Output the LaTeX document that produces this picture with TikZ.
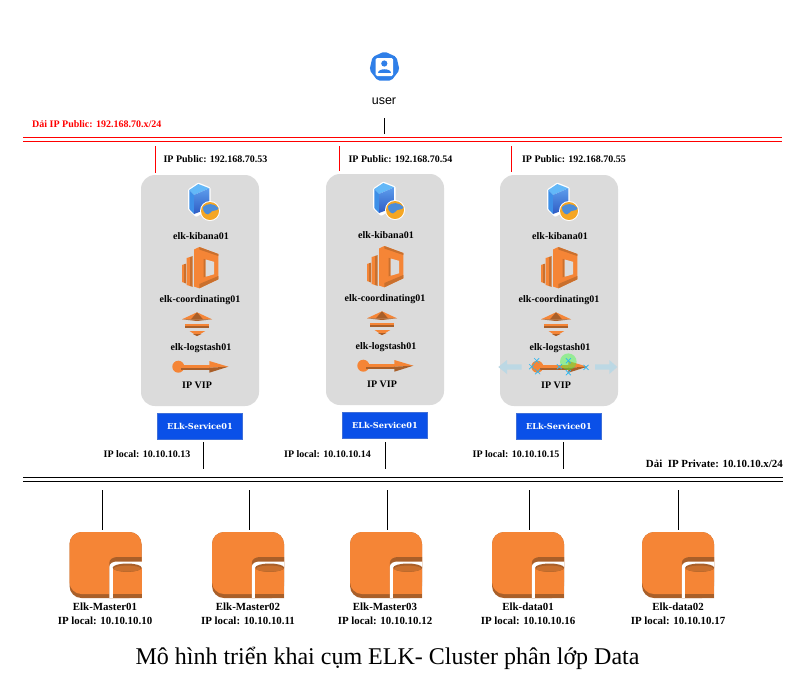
\documentclass[tikz,border=0pt]{standalone}
\usepackage{fontspec}
\setmainfont{Liberation Serif}
\newfontfamily\userfont{Liberation Sans}
\newfontfamily\svcfont{DejaVu Serif}
\definecolor{oMain}{HTML}{F58536}
\definecolor{oDark}{HTML}{A95F29}
\definecolor{oMid}{HTML}{C9702E}
\definecolor{panelC}{HTML}{DBDBDB}
\definecolor{svcC}{HTML}{0A50E8}
\definecolor{svcB}{HTML}{3F6FD8}
\definecolor{userC}{HTML}{2F7FE8}
\definecolor{hintC}{HTML}{BCD8E4}
\definecolor{handC}{HTML}{29B6F2}
\definecolor{srvTop}{HTML}{63B8F8}
\definecolor{srvLeft}{HTML}{3D8FE8}
\definecolor{srvFrontT}{HTML}{5C9CEC}
\definecolor{srvFrontB}{HTML}{2E5CC4}
\definecolor{globeB}{HTML}{4C8CD8}
\definecolor{globeO}{HTML}{F5A623}
\tikzset{
  x=1pt,y=-1pt,
  lbl/.style={font=\bfseries\fontsize{10}{12}\selectfont,inner sep=0pt,text=black},
  lblb/.style={font=\bfseries\fontsize{10.9}{13}\selectfont,inner sep=0pt,text=black},
  panel/.style={fill=panelC,draw=none,rounded corners=14pt},
  svc/.style={fill=svcC,draw=svcB,line width=0.8pt,text=white,font=\svcfont\bfseries\fontsize{8.2}{10}\selectfont,minimum width=85pt,minimum height=26pt,inner sep=0pt},
  bus/.style={line width=0.9pt,black},
  busred/.style={line width=0.9pt,draw=red},
  wire/.style={line width=0.8pt,black},
  redwire/.style={line width=0.9pt,draw=red},
  pics/server/.style={code={
    \fill[white,rounded corners=1pt] (-9,-13.5) -- (1.3,-20.5) -- (13.5,-15.5) -- (13.5,6) -- (-1,14) -- (-9,6.5) -- cycle;
    \fill[srvTop] (-7.7,-13) -- (1.3,-19) -- (12.3,-14.7) -- (-3,-8) -- cycle;
    \fill[srvLeft] (-7.7,-13) -- (-3,-8) -- (-3,11) -- (-7.7,6) -- cycle;
    \shade[top color=srvFrontT,bottom color=srvFrontB] (-3,-8) -- (12.3,-14.7) -- (12.3,5.3) -- (-3,11) -- cycle;
    \fill[white] (13,8) circle (10);
    \fill[globeO] (13,8) circle (9);
    \fill[globeB] (6,4) .. controls (10,0) and (17,0) .. (21.5,5) .. controls (21,9) and (15,6) .. (13,10) .. controls (11,14) and (5,9) .. (6,4) -- cycle;
  }},
  pics/coord/.style={code={
    \fill[oMain] (-18,-2.5) -- (-16,-3.2) -- (-16,15.2) -- (-18,14.5) -- cycle;
    \fill[oMid] (-16,-3.2) -- (-14,-3.8) -- (-14,16) -- (-16,15.2) -- cycle;
    \fill[oMain] (-13.3,-9.5) -- (-10,-10.5) -- (-10,18.5) -- (-13.3,17.5) -- cycle;
    \fill[oMid] (-10,-10.5) -- (-7.3,-11.5) -- (-7.3,19.5) -- (-10,18.5) -- cycle;
    \fill[oMain] (-6,-18) -- (-0.7,-20.5) -- (18.3,-13.5) -- (18.3,11.8) -- (-0.7,20.8) -- (-6,19) -- cycle;
    \fill[oMid] (-0.7,-20.5) -- (18.3,-13.5) -- (18.3,-11.5) -- (-0.7,-18) -- cycle;
    \fill[oMid] (-0.7,16.5) -- (18.3,8.5) -- (18.3,11.8) -- (-0.7,20.8) -- cycle;
    \fill[oMid] (3.7,-8.7) -- (5.7,-8) -- (5.7,9.2) -- (3.7,9.8) -- cycle;
    \fill[panelC] (5.7,-8) -- (14,-5.7) -- (14,6.8) -- (5.7,9.2) -- cycle;
  }},
  pics/logst/.style={code={
    \fill[oMain] (-15,-5.7) -- (0,-12.7) -- (15,-5.7) -- cycle;
    \fill[oDark] (-15,-5.7) -- (15,-5.7) -- (0,-4) -- cycle;
    \fill[oDark] (-6,-5.7) -- (0,-12.7) -- (6,-5.7) -- cycle;
    \fill[oMain] (-11.7,-1) rectangle (12.3,1.2);
    \fill[oDark] (-11.7,1.2) rectangle (12.3,2.7);
    \fill[oMain] (-7.4,6) -- (8.3,6) -- (0,11) -- cycle;
    \fill[oDark] (-4,9) -- (4.5,9) -- (0,11) -- cycle;
  }},
  pics/vip/.style={code={
    \fill[oMain] (-21.7,0) circle (6);
    \fill[oMain] (-19,-1.5) rectangle (10,1);
    \fill[oDark] (-19,1) rectangle (10,3.5);
    \fill[oMain] (9.3,-5.7) -- (28.3,0) -- (9.3,1) -- cycle;
    \fill[oDark] (9.3,1) -- (28.3,0) -- (9.3,6) -- cycle;
  }},
  pics/store/.style={code={
    \fill[oDark,rounded corners=12pt] (-36,-33) rectangle (36,33);
    \fill[oMain,rounded corners=12pt] (-36,-33) rectangle (36,29);
    \fill[oDark] (3.8,33) -- (3.8,-2) .. controls (3.8,-6) and (8,-8) .. (12,-8) -- (36.2,-8) -- (36.2,33) -- cycle;
    \fill[white] (3.8,33.2) -- (3.8,2) .. controls (3.8,-2) and (8,-3.5) .. (12,-3.5) -- (36.4,-3.5) -- (36.4,33.2) -- cycle;
    \fill[oMain] (7.2,3) rectangle (36.2,29);
    \fill[oDark] (7.2,29) rectangle (36.2,33);
    \fill[oDark] (21.7,2.7) ellipse[x radius=14.5,y radius=4.2];
    \fill[oMid] (21.7,3.6) ellipse[x radius=13.5,y radius=3];
  }},
}
\begin{document}
\begin{tikzpicture}
\useasboundingbox (0,0) rectangle (805,697);
\fill[white] (0,0) rectangle (805,697);

% user
\fill[userC,rounded corners=2pt] (384.5,51.5) -- (396.5,57) -- (399.5,70) -- (391.5,80.5) -- (377.5,80.5) -- (369.5,70) -- (372.5,57) -- cycle;
\fill[white,rounded corners=1.5pt] (375.5,58) rectangle (393,76);
\fill[userC] (384.3,63.5) circle (3.1);
\fill[userC] (378.3,73) .. controls (378.3,67.5) and (390.5,67.5) .. (390.5,73) -- cycle;
\node[inner sep=0pt,font=\userfont\fontsize{12.5}{14}\selectfont] (user) at (384,101) {user};

% buses
\coordinate (busTopL) at (23,137.5); \coordinate (busTopR) at (782,137.5);
\coordinate (busTopLb) at (23,141.5); \coordinate (busTopRb) at (782,141.5);
\draw[busred] (busTopL) -- (busTopR);
\draw[busred] (busTopLb) -- (busTopRb);
\coordinate (busBotL) at (23,477.5); \coordinate (busBotR) at (783,477.5);
\coordinate (busBotLb) at (23,481.5); \coordinate (busBotRb) at (783,481.5);
\draw[bus] (busBotL) -- (busBotR);
\draw[bus] (busBotLb) -- (busBotRb);

\node[lbl,anchor=west,text=red] (pubnet) at (32,124) {Dải IP Public: 192.168.70.x/24};
\node[lblb,anchor=east] (privnet) at (783,464) {Dải\ \ IP Private: 10.10.10.x/24};

\coordinate (userDrop) at (384,134);
\coordinate (userTop) at (384,118);
\draw[wire] (userDrop) -- (userTop);

% panels
\node[panel,minimum width=118pt,minimum height=231pt,inner sep=0pt] (p1) at (200,290.5) {};
\node[panel,minimum width=118pt,minimum height=231pt,inner sep=0pt] (p2) at (385,289.5) {};
\node[panel,minimum width=118pt,minimum height=231pt,inner sep=0pt] (p3) at (559,290.5) {};

% panel contents
\foreach \nm/\cx/\dy/\ipn/\ipx/\rx/\rt/\rb/\sy/\loc/\locx/\wx in {
  a/200/0/53/215.5/155/146/173/426.5/13/147/203,
  b/385/-1/54/400.5/339/146/171/425.5/14/327.5/385,
  c/559/0/55/574/511/146/172/426.5/15/516/563}{
  \coordinate (rt\nm) at (\rx,\rt);
  \coordinate (rb\nm) at (\rx,\rb);
  \draw[redwire] (rt\nm) -- (rb\nm);
  \node[lbl] (ip\nm) at (\ipx,159) {IP Public: 192.168.70.\ipn};
  \pic at (\cx-3,{203+\dy}) {server};
  \node[lbl] (kib\nm) at (\cx+1,{236.5+\dy}) {elk-kibana01};
  \pic at (\cx,{267.5+\dy}) {coord};
  \node[lbl] (co\nm) at (\cx,{300.5+\dy}) {elk-coordinating01};
  \pic at (\cx-3,{325+\dy}) {logst};
  \node[lbl] (lo\nm) at (\cx+1,{348.5+\dy}) {elk-logstash01};
  \pic at (\cx,{366.7+\dy}) {vip};
  \node[lbl] (vp\nm) at (\cx-3,{385+\dy}) {IP VIP};
  \node[svc] (sv\nm) at (\cx,\sy) {ELk-Service01};
  \node[lbl] (lc\nm) at (\locx,454) {IP local: 10.10.10.\loc};
  \coordinate (dr\nm) at (\wx,469);
  \coordinate (ds\nm) at (\wx,442);
  \draw[wire] (ds\nm) -- (dr\nm);
}

% hover hints in third panel
\fill[hintC] (498.3,367) -- (507,360) -- (507,364.3) -- (521.7,364.3) -- (521.7,369.5) -- (507,369.5) -- (507,374) -- cycle;
\fill[hintC] (617.3,367) -- (609.3,360) -- (609.3,364.3) -- (595,364.3) -- (595,369.5) -- (609.3,369.5) -- (609.3,374) -- cycle;
\fill[green!75!white,opacity=0.45] (568.3,361.7) circle (8.3);
\foreach \hx/\hy in {536.7/360.7,531.7/366.7,537.7/371.7,559.3/366.7,568.3/360.7,568.3/372.7,586/367.3}{
  \draw[handC,line width=0.7pt] (\hx-2.5,\hy-2.5) -- (\hx+2.5,\hy+2.5) (\hx-2.5,\hy+2.5) -- (\hx+2.5,\hy-2.5);
}

% stores
\foreach \nm/\cx/\wx/\lab/\ipl/\lx in {
  s1/105.5/102/Elk-Master01/10/105,
  s2/248/249/Elk-Master02/11/248,
  s3/386/387/Elk-Master03/12/385,
  s4/528/529/Elk-data01/16/528,
  s5/678/678/Elk-data02/17/678}{
  \pic at (\cx,565) {store};
  \coordinate (t\nm) at (\wx,490);
  \coordinate (b\nm) at (\wx,530);
  \draw[wire] (t\nm) -- (b\nm);
  \node[lblb] (n\nm) at (\lx,606.5) {\lab};
  \node[lblb] (i\nm) at (\lx,620.5) {IP local: 10.10.10.\ipl};
}

\node[inner sep=0pt,font=\fontsize{24}{26}\selectfont] (title) at (387.5,658) {Mô hình triển khai cụm ELK- Cluster phân lớp Data};
\end{tikzpicture}
\end{document}
